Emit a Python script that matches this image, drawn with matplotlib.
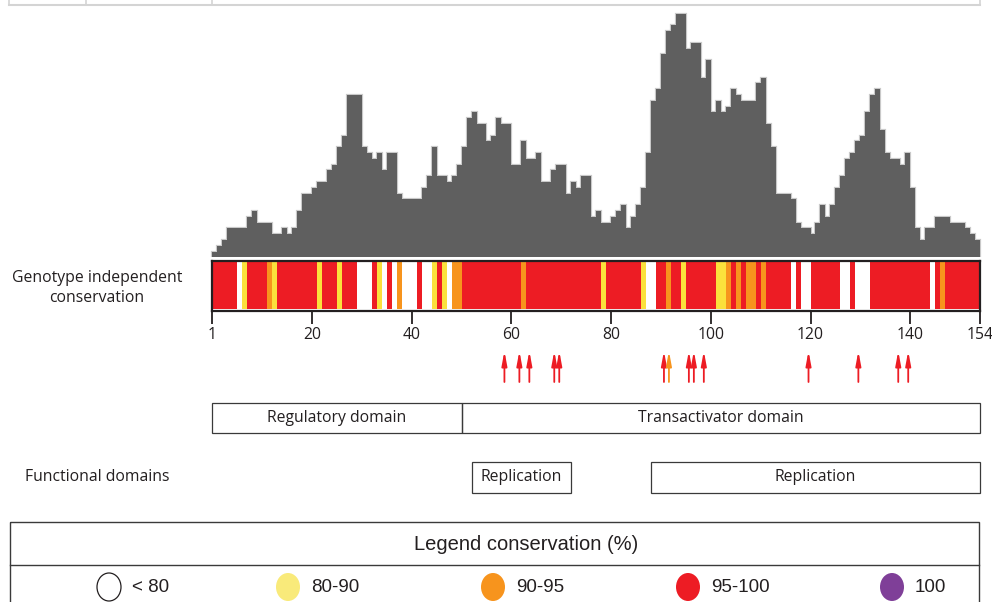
import numpy as np
import matplotlib.pyplot as plt
from matplotlib.patches import Rectangle, Ellipse

# per-residue variability (histogram height, arbitrary units)
variability = [
    1, 2, 3, 5, 5, 5, 5, 7, 8, 6,
    6, 6, 4, 4, 5, 4, 5, 8, 11, 11,
    12, 13, 13, 15, 16, 19, 21, 28, 28, 28,
    19, 18, 17, 18, 15, 18, 18, 11, 10, 10,
    10, 10, 12, 14, 19, 14, 14, 13, 14, 16,
    19, 24, 25, 23, 23, 20, 21, 24, 23, 23,
    16, 16, 20, 17, 17, 18, 13, 13, 15, 16,
    16, 11, 13, 12, 14, 14, 7, 8, 6, 6,
    7, 8, 9, 5, 7, 9, 12, 18, 27, 29,
    35, 39, 40, 42, 42, 36, 37, 37, 31, 34,
    25, 27, 25, 26, 29, 28, 27, 27, 27, 30,
    31, 23, 19, 11, 11, 11, 10, 6, 5, 5,
    4, 6, 9, 7, 9, 12, 14, 17, 18, 20,
    21, 25, 28, 29, 22, 18, 17, 17, 16, 18,
    12, 5, 3, 5, 5, 7, 7, 7, 6, 6,
    6, 5, 4, 3,
]

# conservation class per residue: W <80, Y 80-90, O 90-95, R 95-100
conservation = (
    "RRRRRWYRRR" "ROYRRRRRRR" "RYRRRYRRRW" "WWRYWRWOWW" "WRWWYRYWOO"
    "RRRRRRRRRR" "RRORRRRRRR" "RRRRRRRRYR" "RRRRRRYWWR" "RORRYRRRRR"
    "RYYOROROOR" "ORRRRRWRWW" "RRRRRRWWRW" "WWRRRRRRRR" "RRRRWRORRR"
    "RRRR"
)

tick_pos = [0, 20, 40, 60, 80, 100, 120, 140, 154]
tick_labels = ['1', '20', '40', '60', '80', '100', '120', '140', '154']

arrow_res = [59, 62, 64, 69, 70, 91, 92, 96, 97, 99, 120, 130, 138, 140]
arrow_cls = ['R', 'R', 'R', 'R', 'R', 'R', 'O', 'R', 'R', 'R', 'R', 'R', 'R', 'R']

domain_names = ['Regulatory domain', 'Transactivator domain', 'Replication', 'Replication']
domain_start = [0, 50, 52, 88]
domain_end = [50, 154, 72, 154]
domain_row = [0, 0, 1, 1]

legend_keys = ['W', 'Y', 'O', 'R', 'P']
legend_labels = ['< 80', '80-90', '90-95', '95-100', '100']

bar_colors = {'W': '#ffffff', 'Y': '#fbe13c', 'O': '#f7941d', 'R': '#ed1c24', 'P': '#7f3f98'}
leg_colors = {'W': '#ffffff', 'Y': '#f9ea7a', 'O': '#f7941d', 'R': '#ed1c24', 'P': '#7f3f98'}

plt.rcParams['font.family'] = ['Open Sans', 'DejaVu Sans']
narrow = ['Liberation Sans Narrow', 'Liberation Sans', 'DejaVu Sans']
txt = '#231f20'
fs = 11.3

W, H = 992, 602
fig = plt.figure(figsize=(W / 100, H / 100), dpi=100)


def px(x0, y0, x1, y1):
    return [x0 / W, 1 - y1 / H, (x1 - x0) / W, (y1 - y0) / H]


X0, X1 = 212.3, 980.0
n = len(variability)
edges = np.arange(n + 1)

# background layer in pixel units
bg = fig.add_axes([0, 0, 1, 1], zorder=0)
bg.set_xlim(0, W)
bg.set_ylim(H, 0)
bg.axis('off')

# remnant of table above
bg.plot([9, 980], [5, 5], color='#d4d4d4', lw=1.5)
for xv in [9, 86, 212, 980]:
    bg.plot([xv, xv], [0, 5], color='#d4d4d4', lw=1.2)

# histogram
ax_h = fig.add_axes(px(X0, 257.3 - 42 * 5.8, X1, 257.3), zorder=2)
ax_h.patch.set_visible(False)
ax_h.set_xlim(0, n)
ax_h.set_ylim(0, 42)
ax_h.axis('off')
ax_h.stairs(variability, edges, color='#c9c9c9', lw=1.6, zorder=1, clip_on=False)
ax_h.stairs(variability, edges, fill=True, color='#5f5f5f', zorder=2, clip_on=False)

# conservation colour bar
ax_c = fig.add_axes(px(X0, 260.7, X1, 310.7), zorder=2)
ax_c.set_xlim(0, n)
ax_c.set_ylim(-0.03, 1.03)
ax_c.bar(edges[:-1], 1, width=1, align='edge',
         color=[bar_colors[c] for c in conservation], linewidth=0)
for s in ax_c.spines.values():
    s.set_linewidth(1.6)
    s.set_color(txt)
ax_c.set_yticks([])
ax_c.set_xticks(tick_pos)
ax_c.set_xticklabels(tick_labels)
ax_c.tick_params(axis='x', length=9, width=1.3, color=txt, pad=3,
                 labelsize=fs, labelcolor=txt)

# mutation arrows
ax_a = fig.add_axes(px(X0, 351, X1, 382), zorder=2)
ax_a.patch.set_visible(False)
ax_a.set_xlim(0, n)
ax_a.set_ylim(0, 1)
ax_a.axis('off')
for r, c in zip(arrow_res, arrow_cls):
    ax_a.annotate('', xy=(r - 0.4, 1), xytext=(r - 0.4, 0),
                  arrowprops=dict(arrowstyle='-|>,head_length=0.7,head_width=0.13',
                                  color=bar_colors[c], lw=1.3,
                                  shrinkA=0, shrinkB=0, mutation_scale=12))

# functional domains
ax_d = fig.add_axes(px(X0, 395, X1, 500), zorder=2)
ax_d.patch.set_visible(False)
ax_d.set_xlim(0, n)
ax_d.set_ylim(500, 395)
ax_d.axis('off')
row_top = [403, 462]
row_h = [30, 31]
for name, s, e, r in zip(domain_names, domain_start, domain_end, domain_row):
    ax_d.add_patch(Rectangle((s, row_top[r]), e - s, row_h[r], fill=False,
                             ec='#3a3a3a', lw=0.9, clip_on=False))
    ax_d.text((s + e) / 2, row_top[r] + row_h[r] / 2, name, ha='center',
              va='center', fontsize=fs, color=txt)

# left labels
bg.text(97, 288, 'Genotype independent\nconservation', ha='center', va='center',
        fontsize=fs, color=txt, linespacing=1.4)
bg.text(97, 477, 'Functional domains', ha='center', va='center',
        fontsize=fs, color=txt)

# legend
bg.add_patch(Rectangle((10, 522), 969, 90, fill=False, ec='#3a3a3a', lw=1))
bg.plot([10, 979], [565, 565], color='#3a3a3a', lw=1)
bg.text(526, 545, 'Legend conservation (%)', ha='center', va='center',
        fontsize=14.5, color=txt, family=narrow)
leg_x = [109, 288, 493, 688, 892]
for xv, k, lab in zip(leg_x, legend_keys, legend_labels):
    bg.add_patch(Ellipse((xv, 587), 24, 28, fc=leg_colors[k],
                         ec=txt if k == 'W' else 'none', lw=0.9))
    bg.text(xv + 23, 588, lab, ha='left', va='center', fontsize=13.5,
            color=txt, family=narrow)

fig.savefig('out.png', dpi=100)
